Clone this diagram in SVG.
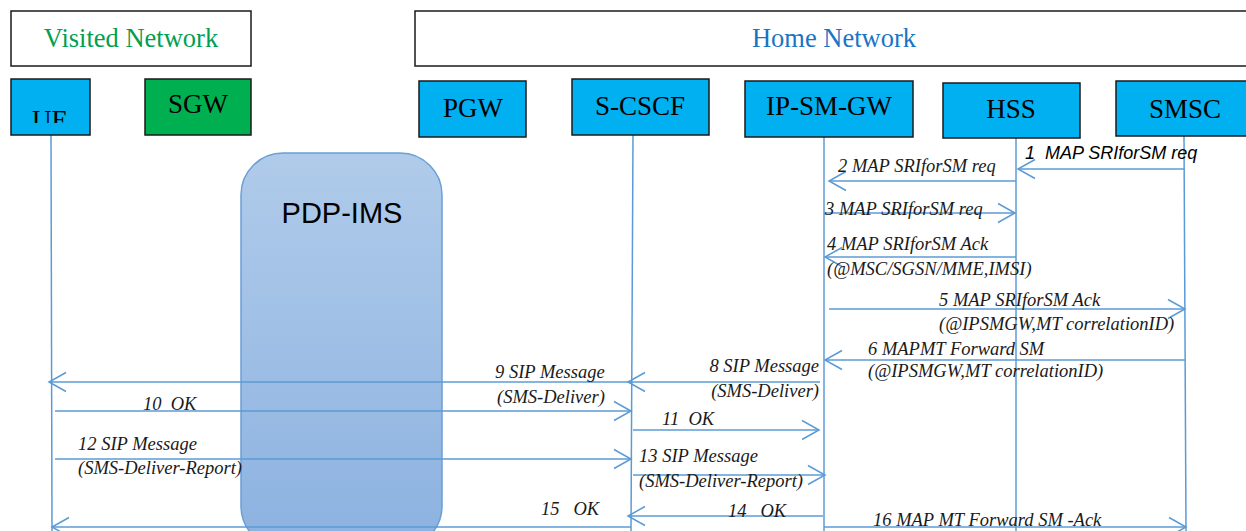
<svg xmlns="http://www.w3.org/2000/svg" width="1246" height="531" viewBox="0 0 1246 531">
<style>
text{white-space:pre}
.hdr{fill:#ffffff;stroke:#1a1a1a;stroke-width:1.5}
.node{fill:#00b0f0;stroke:#1a1a1a;stroke-width:1.5}
.sgw{fill:#00b050;stroke:#1a1a1a;stroke-width:1.5}
.nt{font-family:"Liberation Serif","Times New Roman",serif;font-size:27px;fill:#000;text-anchor:middle}
.life{stroke:#5b9bd5;stroke-width:1.5;fill:none}
.msg{stroke:#5b9bd5;stroke-width:1.5;fill:none;marker-end:url(#arr)}
.lbl{font-family:"Liberation Serif","Times New Roman",serif;font-style:italic;font-size:18.5px;fill:#1a1a1a}
.lbls{font-family:"Liberation Sans",Arial,sans-serif;font-style:italic;font-size:18px;fill:#000}
</style>
<defs>
<marker id="arr" markerUnits="userSpaceOnUse" viewBox="-19 -11 21 22" refX="0" refY="0" markerWidth="21" markerHeight="22" orient="auto">
<path d="M-17,-9.5 L0,0 L-17,9.5" fill="none" stroke="#5b9bd5" stroke-width="1.5"/>
</marker>
<linearGradient id="pdpg" x1="0" y1="0" x2="0" y2="1">
<stop offset="0" stop-color="#b0cbea"/>
<stop offset="1" stop-color="#8cb2e0"/>
</linearGradient>
<clipPath id="ueclip"><rect x="11" y="79" width="79" height="44"/></clipPath>
</defs>
<rect width="1246" height="531" fill="#ffffff"/>

<g id="visited-network">
<rect class="hdr" x="11" y="11" width="240" height="55"/>
<text x="131" y="47" font-family="Liberation Serif,Times New Roman,serif" font-size="26.5" fill="#00a050" text-anchor="middle">Visited Network</text>
</g>
<g id="home-network">
<rect class="hdr" x="415" y="11" width="845" height="55"/>
<text x="834" y="47" font-family="Liberation Serif,Times New Roman,serif" font-size="26.5" fill="#1a74c4" text-anchor="middle">Home Network</text>
</g>

<g id="pdp-ims">
<rect x="241" y="153" width="201" height="395" rx="42" ry="42" fill="url(#pdpg)" stroke="#6a9fd6" stroke-width="1.5"/>
<text x="342" y="223" font-family="Liberation Sans,Arial,sans-serif" font-size="29" fill="#000" text-anchor="middle">PDP-IMS</text>
</g>

<g id="lifelines">
<line class="life" x1="51" y1="135" x2="52" y2="531"/>
<line class="life" x1="633" y1="135" x2="631" y2="531"/>
<line class="life" x1="824" y1="137" x2="824" y2="531"/>
<line class="life" x1="1016" y1="138" x2="1016" y2="531"/>
<line class="life" x1="1184" y1="136" x2="1186" y2="531"/>
</g>

<g id="ue">
<rect class="node" x="11" y="79" width="79" height="56"/>
<text class="nt" x="50" y="129" clip-path="url(#ueclip)">UE</text>
</g>
<g id="sgw">
<rect class="sgw" x="145" y="79" width="106" height="56"/>
<text class="nt" x="198" y="113">SGW</text>
</g>
<g id="pgw">
<rect class="node" x="419" y="81" width="107" height="56"/>
<text class="nt" x="473" y="117">PGW</text>
</g>
<g id="s-cscf">
<rect class="node" x="572" y="79" width="137" height="56"/>
<text class="nt" x="640" y="115">S-CSCF</text>
</g>
<g id="ip-sm-gw">
<rect class="node" x="745" y="81" width="168" height="56"/>
<text class="nt" x="829" y="115">IP-SM-GW</text>
</g>
<g id="hss">
<rect class="node" x="943" y="83" width="137" height="55"/>
<text class="nt" x="1011" y="118">HSS</text>
</g>
<g id="smsc">
<rect class="node" x="1116" y="81" width="140" height="55"/>
<text class="nt" x="1185" y="118">SMSC</text>
</g>

<g id="connectors">
<line class="msg" x1="1184" y1="169" x2="1018" y2="169"/>
<line class="msg" x1="1016" y1="181" x2="829" y2="181"/>
<line class="msg" x1="824" y1="213" x2="1015" y2="213"/>
<line class="msg" x1="1016" y1="257" x2="825" y2="257"/>
<line class="msg" x1="829" y1="309" x2="1185" y2="309"/>
<line class="msg" x1="1185" y1="360" x2="825" y2="360"/>
<line class="msg" x1="820" y1="382" x2="628" y2="382"/>
<line class="msg" x1="631" y1="382" x2="49" y2="382"/>
<line class="msg" x1="55" y1="411" x2="631" y2="411"/>
<line class="msg" x1="633" y1="430" x2="819" y2="430"/>
<line class="msg" x1="55" y1="459" x2="631" y2="459"/>
<line class="msg" x1="633" y1="475" x2="825" y2="475"/>
<line class="msg" x1="823" y1="516" x2="628" y2="516"/>
<line class="msg" x1="631" y1="527" x2="52" y2="527"/>
<line class="msg" x1="824" y1="527" x2="1186" y2="527"/>
</g>

<g id="labels">
<text class="lbls" x="1025" y="159">1  MAP SRIforSM req</text>
<text class="lbl" x="838" y="172">2 MAP SRIforSM req</text>
<text class="lbl" x="825" y="215">3 MAP SRIforSM req</text>
<text class="lbl" x="827" y="250">4 MAP SRIforSM Ack</text>
<text class="lbl" x="827" y="275">(@MSC/SGSN/MME,IMSI)</text>
<text class="lbl" x="939" y="306">5 MAP SRIforSM Ack</text>
<text class="lbl" x="939" y="330">(@IPSMGW,MT correlationID)</text>
<text class="lbl" x="868" y="355">6 MAPMT Forward SM</text>
<text class="lbl" x="868" y="377">(@IPSMGW,MT correlationID)</text>
<text class="lbl" x="819" y="372" text-anchor="end">8 SIP Message</text>
<text class="lbl" x="819" y="397" text-anchor="end">(SMS-Deliver)</text>
<text class="lbl" x="495" y="378">9 SIP Message</text>
<text class="lbl" x="497" y="403">(SMS-Deliver)</text>
<text class="lbl" x="143" y="410">10  OK</text>
<text class="lbl" x="662" y="425">11  OK</text>
<text class="lbl" x="78" y="450">12 SIP Message</text>
<text class="lbl" x="78" y="474">(SMS-Deliver-Report)</text>
<text class="lbl" x="639" y="462">13 SIP Message</text>
<text class="lbl" x="639" y="487">(SMS-Deliver-Report)</text>
<text class="lbl" x="728" y="517">14   OK</text>
<text class="lbl" x="541" y="515">15   OK</text>
<text class="lbl" x="873" y="526">16 MAP MT Forward SM -Ack</text>
</g>
</svg>
